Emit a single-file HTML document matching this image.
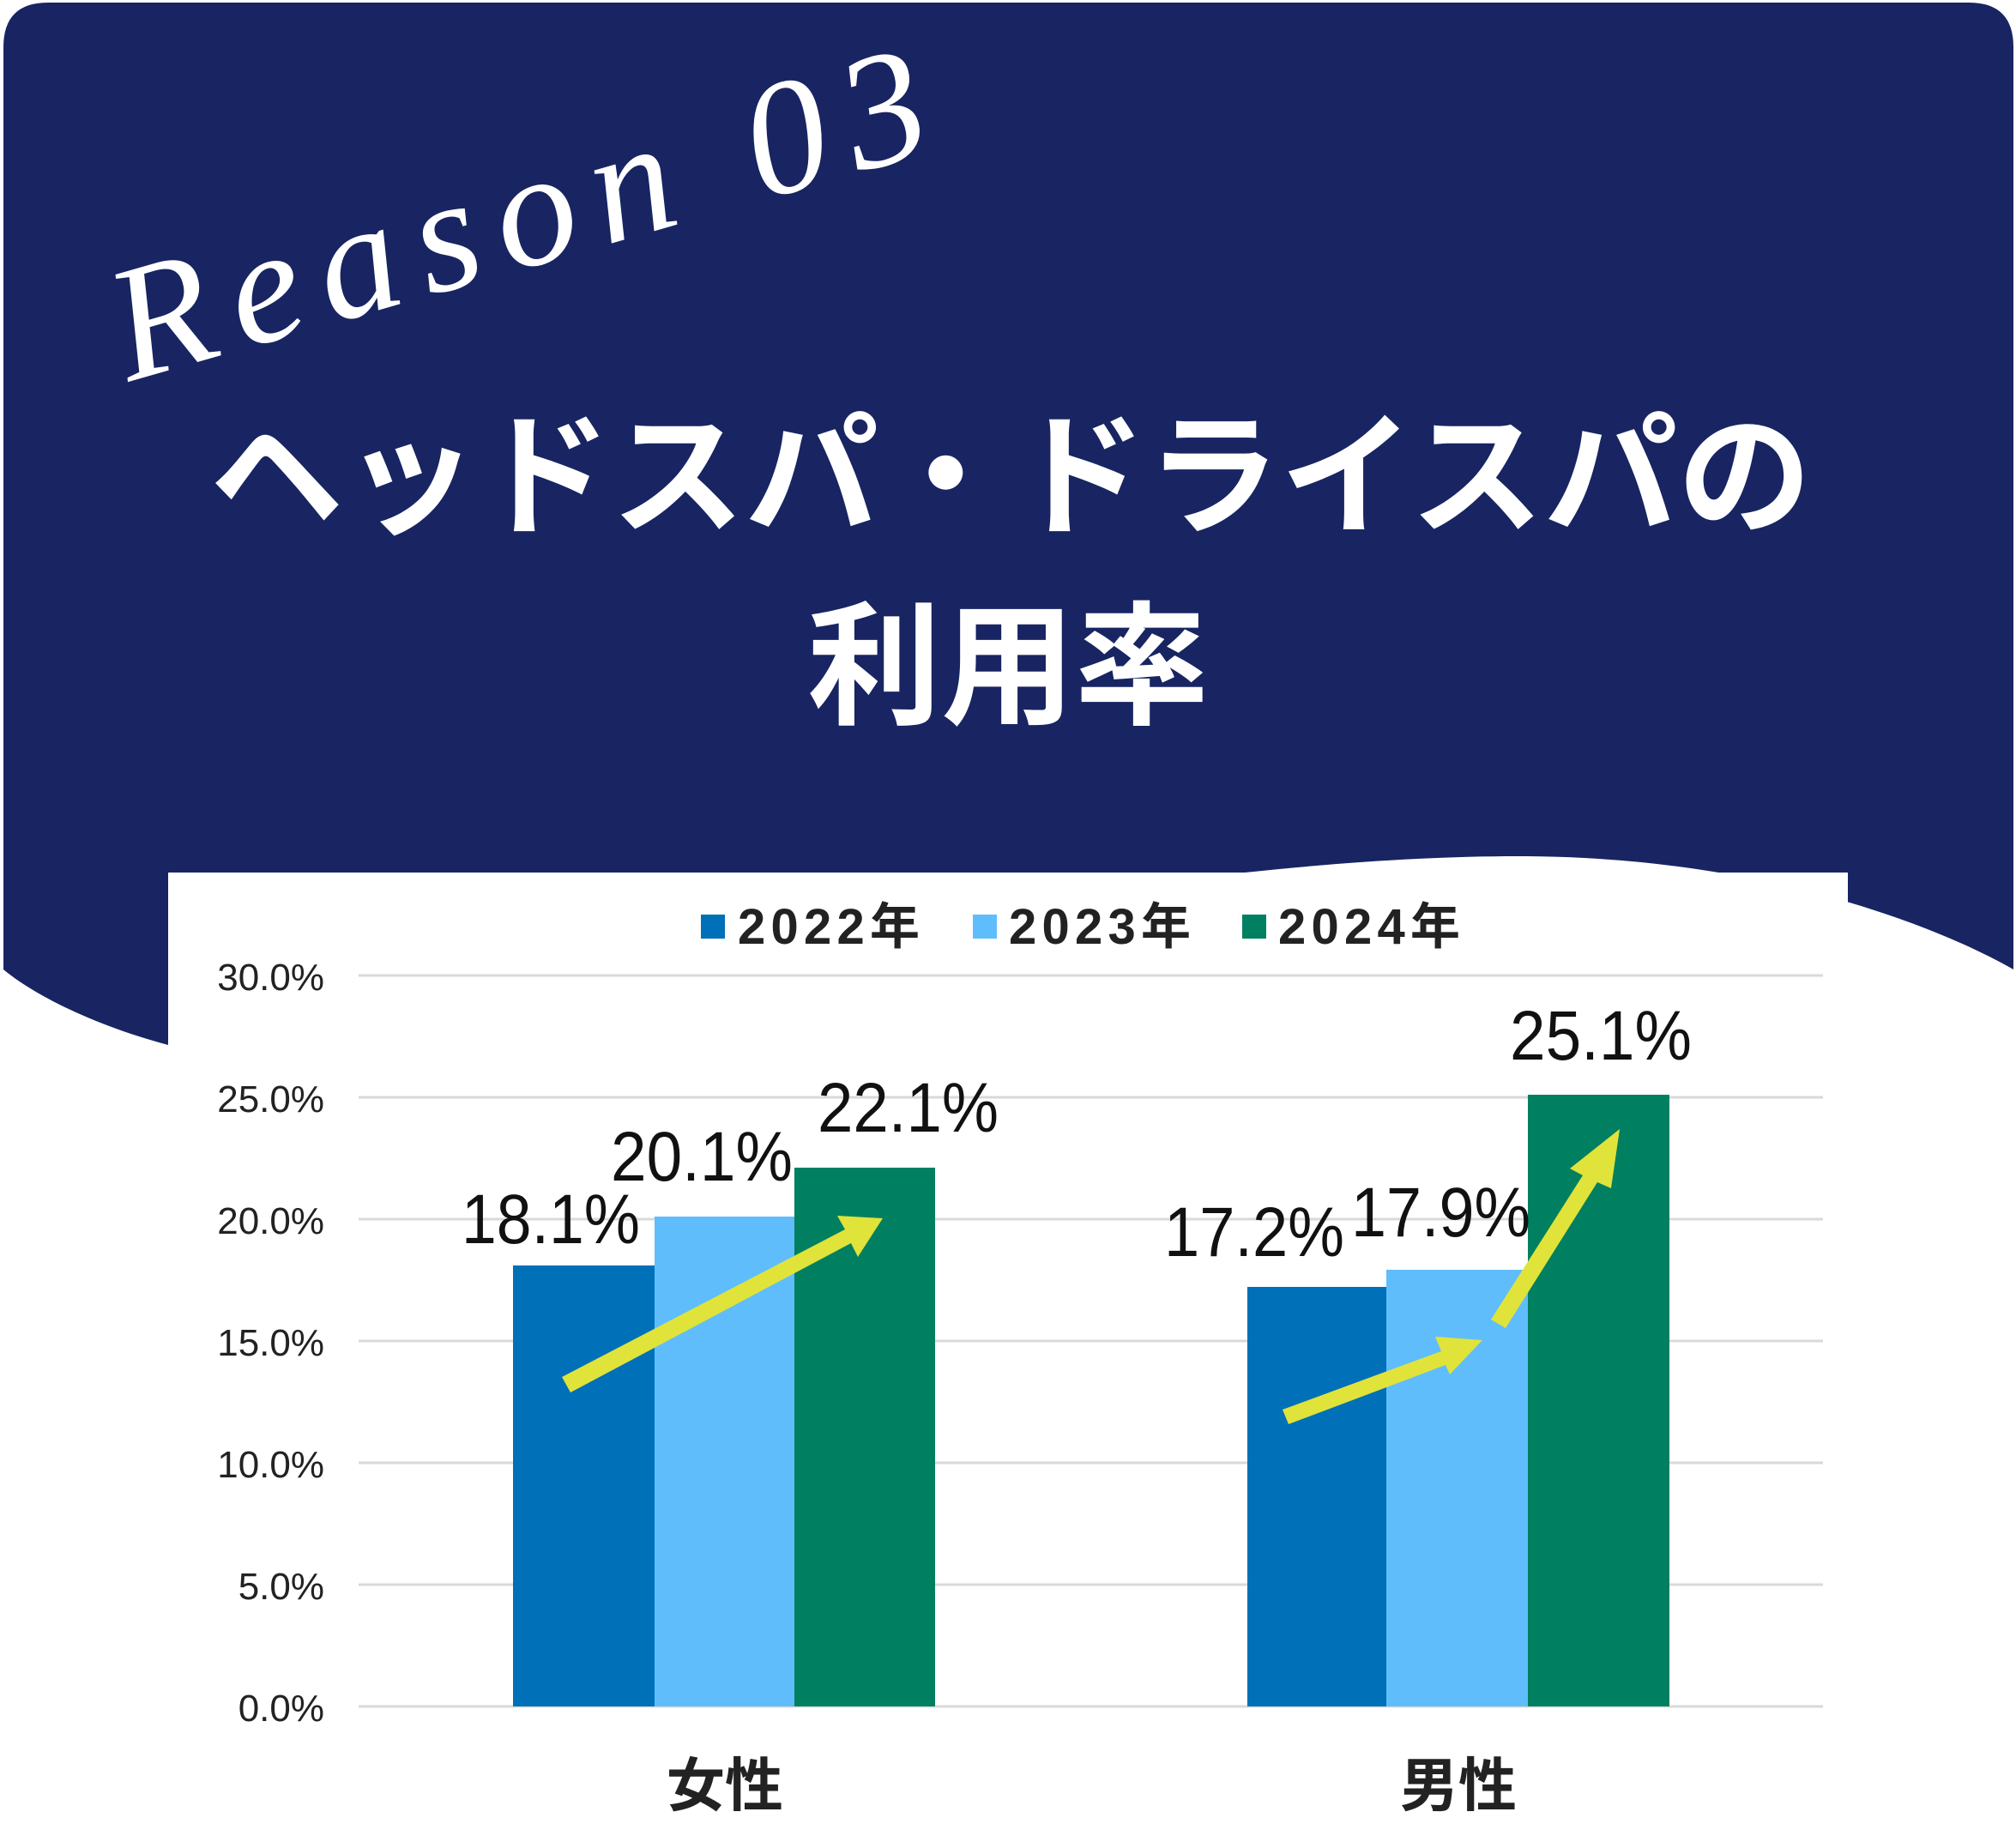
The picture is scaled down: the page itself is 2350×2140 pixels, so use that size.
<!DOCTYPE html>
<html><head><meta charset="utf-8"><style>
html,body{margin:0;padding:0;background:#fff;}
body{width:2350px;height:2140px;position:relative;overflow:hidden;}
svg{position:absolute;left:0;top:0;}
</style></head><body>
<svg width="2350" height="2140" viewBox="0 0 2350 2140" xmlns="http://www.w3.org/2000/svg">
<path d="M4,55 Q4,3 56,3 L2295,3 Q2347,3 2347,55 L2347,1130 C2250,1075 2050,1000 1780,998 C1400,996 900,1100 196,1218 C110,1195 40,1160 4,1130 Z" fill="#182562"/>
<text x="0" y="0" transform="translate(150,445) rotate(-16)" font-family="'Liberation Serif',serif" font-style="italic" font-size="190" fill="#fff" textLength="980" lengthAdjust="spacing">Reason 03</text>
<text x="1178" y="610" text-anchor="middle" font-family="'Liberation Sans','Noto Sans CJK JP',sans-serif" font-weight="bold" font-size="156" fill="#fff">ヘッドスパ・ドライスパの</text>
<text x="1175" y="832" text-anchor="middle" font-family="'Liberation Sans','Noto Sans CJK JP',sans-serif" font-weight="bold" font-size="156" fill="#fff">利用率</text>
<rect x="196" y="1017" width="1958" height="1123" fill="#fff"/>
<g stroke="#d9d9d9" stroke-width="3">
<line x1="418" x2="2125" y1="1137" y2="1137"/><line x1="418" x2="2125" y1="1279" y2="1279"/><line x1="418" x2="2125" y1="1421" y2="1421"/><line x1="418" x2="2125" y1="1563" y2="1563"/><line x1="418" x2="2125" y1="1705" y2="1705"/><line x1="418" x2="2125" y1="1847" y2="1847"/><line x1="418" x2="2125" y1="1989" y2="1989"/>
</g>
<g font-family="'Liberation Sans',sans-serif" font-size="44" fill="#222" text-anchor="end">
<text x="378" y="1154">30.0%</text><text x="378" y="1296">25.0%</text><text x="378" y="1438">20.0%</text><text x="378" y="1580">15.0%</text><text x="378" y="1722">10.0%</text><text x="378" y="1864">5.0%</text><text x="378" y="2006">0.0%</text>
</g>
<rect x="598" y="1475" width="165" height="514" fill="#0070b8"/>
<rect x="763" y="1418" width="163" height="571" fill="#5fbdfc"/>
<rect x="926" y="1361" width="164" height="628" fill="#008060"/>
<rect x="1454" y="1500" width="162" height="489" fill="#0070b8"/>
<rect x="1616" y="1480" width="165" height="509" fill="#5fbdfc"/>
<rect x="1781" y="1276" width="165" height="713" fill="#008060"/>
<g fill="#e0e33a" stroke="none">
<polygon points="655,1605 985,1433 976,1417 1029,1420 1000,1465 992,1449 665,1623"/>
<polygon points="1495,1643 1680,1575 1673,1558 1728,1562 1690,1602 1685,1591 1502,1660"/>
<polygon points="1738,1538 1845,1370 1830,1362 1888,1316 1878,1385 1862,1378 1755,1548"/>
</g>
<g font-family="'Liberation Sans',sans-serif" font-size="82" fill="#111">
<text x="538" y="1449" textLength="208" lengthAdjust="spacingAndGlyphs">18.1%</text>
<text x="712" y="1376" textLength="212" lengthAdjust="spacingAndGlyphs">20.1%</text>
<text x="953" y="1319" textLength="211" lengthAdjust="spacingAndGlyphs">22.1%</text>
<text x="1357" y="1464" textLength="210" lengthAdjust="spacingAndGlyphs">17.2%</text>
<text x="1575" y="1441" textLength="209" lengthAdjust="spacingAndGlyphs">17.9%</text>
<text x="1760" y="1235" textLength="212" lengthAdjust="spacingAndGlyphs">25.1%</text>
</g>
<rect x="817" y="1066" width="28" height="28" fill="#0070b8"/>
<rect x="1134" y="1066" width="28" height="28" fill="#5fbdfc"/>
<rect x="1448" y="1066" width="28" height="28" fill="#008060"/>
<g font-family="'Liberation Sans','Noto Sans CJK JP',sans-serif" font-weight="bold" font-size="58" fill="#222">
<text x="860" y="1100" textLength="212">2022年</text><text x="1176" y="1100" textLength="212">2023年</text><text x="1490" y="1100" textLength="212">2024年</text>
</g>
<g font-family="'Liberation Sans','Noto Sans CJK JP',sans-serif" font-weight="bold" font-size="68" fill="#222" text-anchor="middle">
<text x="845" y="2105">女性</text><text x="1700" y="2105">男性</text>
</g>
</svg>
</body></html>
